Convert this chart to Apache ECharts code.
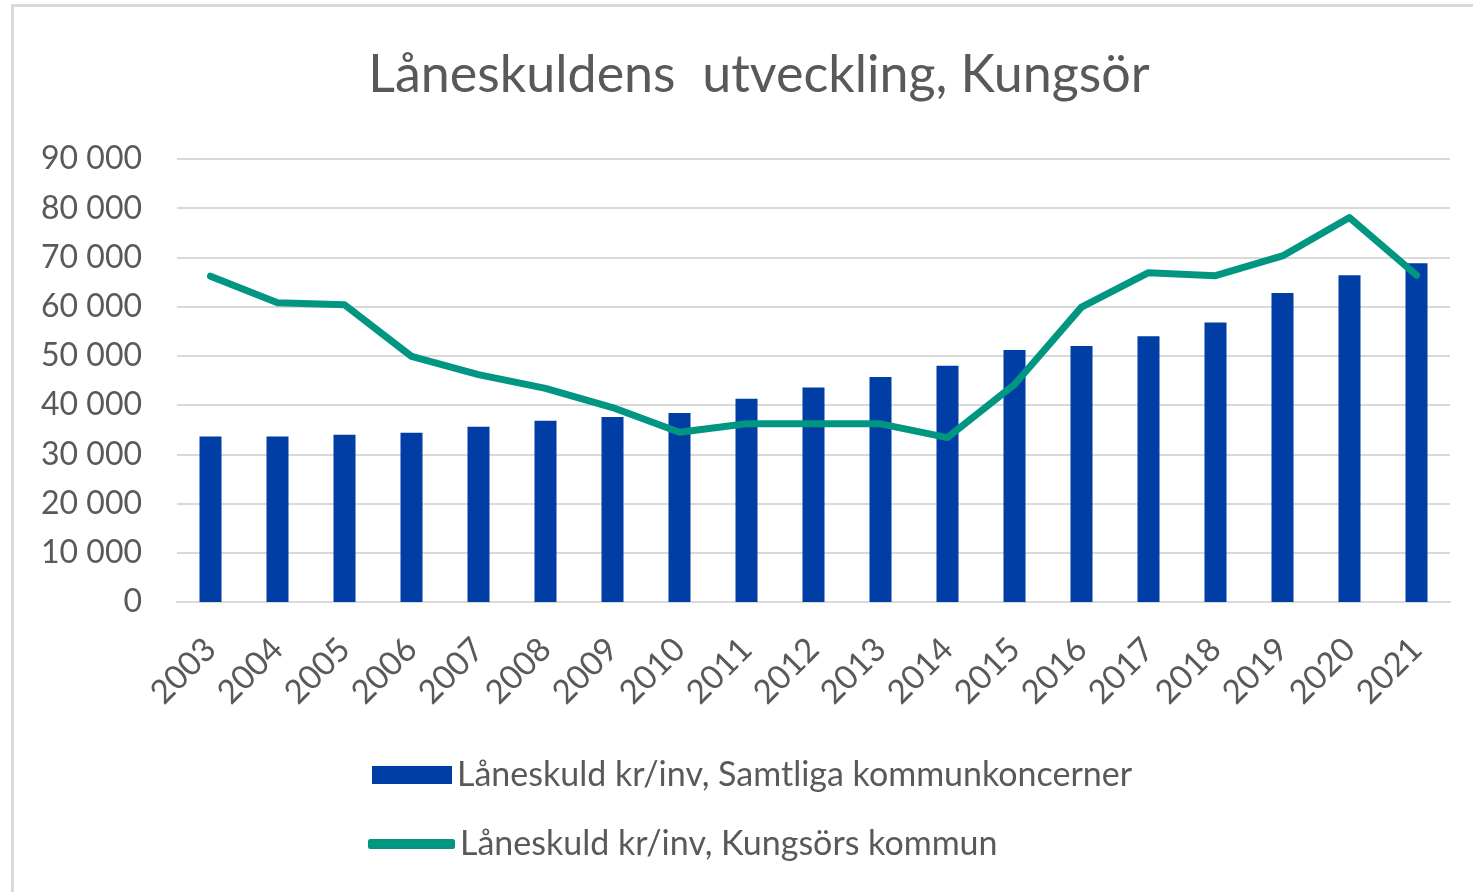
<!DOCTYPE html>
<html>
<head>
<meta charset="utf-8">
<script src="https://cdn.jsdelivr.net/npm/echarts@6/dist/echarts.min.js"></script>
<style>
  html, body { margin: 0; padding: 0; background: #ffffff; overflow: hidden; }
  #chart { position: absolute; left: 0; top: 0; width: 1473px; height: 892px; }
  #frame { position: absolute; left: 11px; top: 4px; width: 1500px; height: 1000px; border: 3px solid #d9d9d9; pointer-events: none; }
</style>
</head>
<body>
<div id="chart"></div>
<div id="frame"></div>
<script>
const titleText = 'Låneskuldens  utveckling, Kungsör';
const years = ['2003','2004','2005','2006','2007','2008','2009','2010','2011','2012','2013','2014','2015','2016','2017','2018','2019','2020','2021'];
const barName = 'Låneskuld kr/inv, Samtliga kommunkoncerner';
const lineName = 'Låneskuld kr/inv, Kungsörs kommun';
const barValues = [33600, 33600, 34000, 34400, 35600, 36800, 37600, 38400, 41300, 43600, 45700, 48000, 51200, 52000, 54000, 56800, 62800, 66400, 68800];
const lineValues = [66200, 60800, 60400, 49900, 46200, 43400, 39500, 34500, 36200, 36200, 36200, 33400, 44200, 59900, 66900, 66300, 70300, 78100, 66400];
const yMin = 0, yMax = 90000, yStep = 10000;

const textColor = '#595959';
const fontFamily = 'Lato';

function fmt(v) {
  if (v === 0) return '0';
  const s = String(v);
  return s.slice(0, s.length - 3) + ' ' + s.slice(s.length - 3);
}

const chart = echarts.init(document.getElementById('chart'), null, { renderer: 'canvas' });
chart.setOption({
  animation: false,
  backgroundColor: '#ffffff',
  textStyle: { fontFamily: fontFamily },
  title: {
    text: titleText,
    left: 754,
    top: 44,
    textAlign: 'center',
    textStyle: { fontFamily: fontFamily, fontSize: 52, fontWeight: 'normal', color: textColor }
  },
  legend: [
    {
      orient: 'vertical',
      left: 367,
      top: 753,
      itemWidth: 80,
      itemHeight: 18,
      icon: 'rect',
      data: [barName],
      textStyle: { fontFamily: fontFamily, fontSize: 34, color: textColor },
      selectedMode: false
    },
    {
      orient: 'vertical',
      left: 363,
      top: 822,
      itemWidth: 87,
      itemHeight: 10,
      icon: 'roundRect',
      data: [lineName],
      textStyle: { fontFamily: fontFamily, fontSize: 34, color: textColor },
      selectedMode: false
    }
  ],
  grid: { left: 177, right: 23, top: 159, bottom: 290, containLabel: false },
  xAxis: {
    type: 'category',
    data: years,
    axisLine: { show: true, lineStyle: { color: '#d9d9d9', width: 2 } },
    axisTick: { show: false },
    axisLabel: { rotate: 45, margin: 42, fontFamily: fontFamily, fontSize: 33, color: textColor, interval: 0 }
  },
  yAxis: {
    type: 'value',
    min: yMin,
    max: yMax,
    interval: yStep,
    axisLine: { show: false },
    axisTick: { show: false },
    splitLine: { lineStyle: { color: '#d9d9d9', width: 2 } },
    axisLabel: { margin: 35, fontFamily: fontFamily, fontSize: 32, color: textColor, formatter: fmt }
  },
  series: [
    {
      name: barName,
      type: 'bar',
      data: barValues,
      barWidth: 22,
      itemStyle: { color: '#003DA5' },
      z: 2
    },
    {
      name: lineName,
      type: 'line',
      data: lineValues,
      symbol: 'none',
      lineStyle: { color: '#009682', width: 7, cap: 'round', join: 'round' },
      itemStyle: { color: '#009682' },
      z: 3
    }
  ]
});
</script>
</body>
</html>
